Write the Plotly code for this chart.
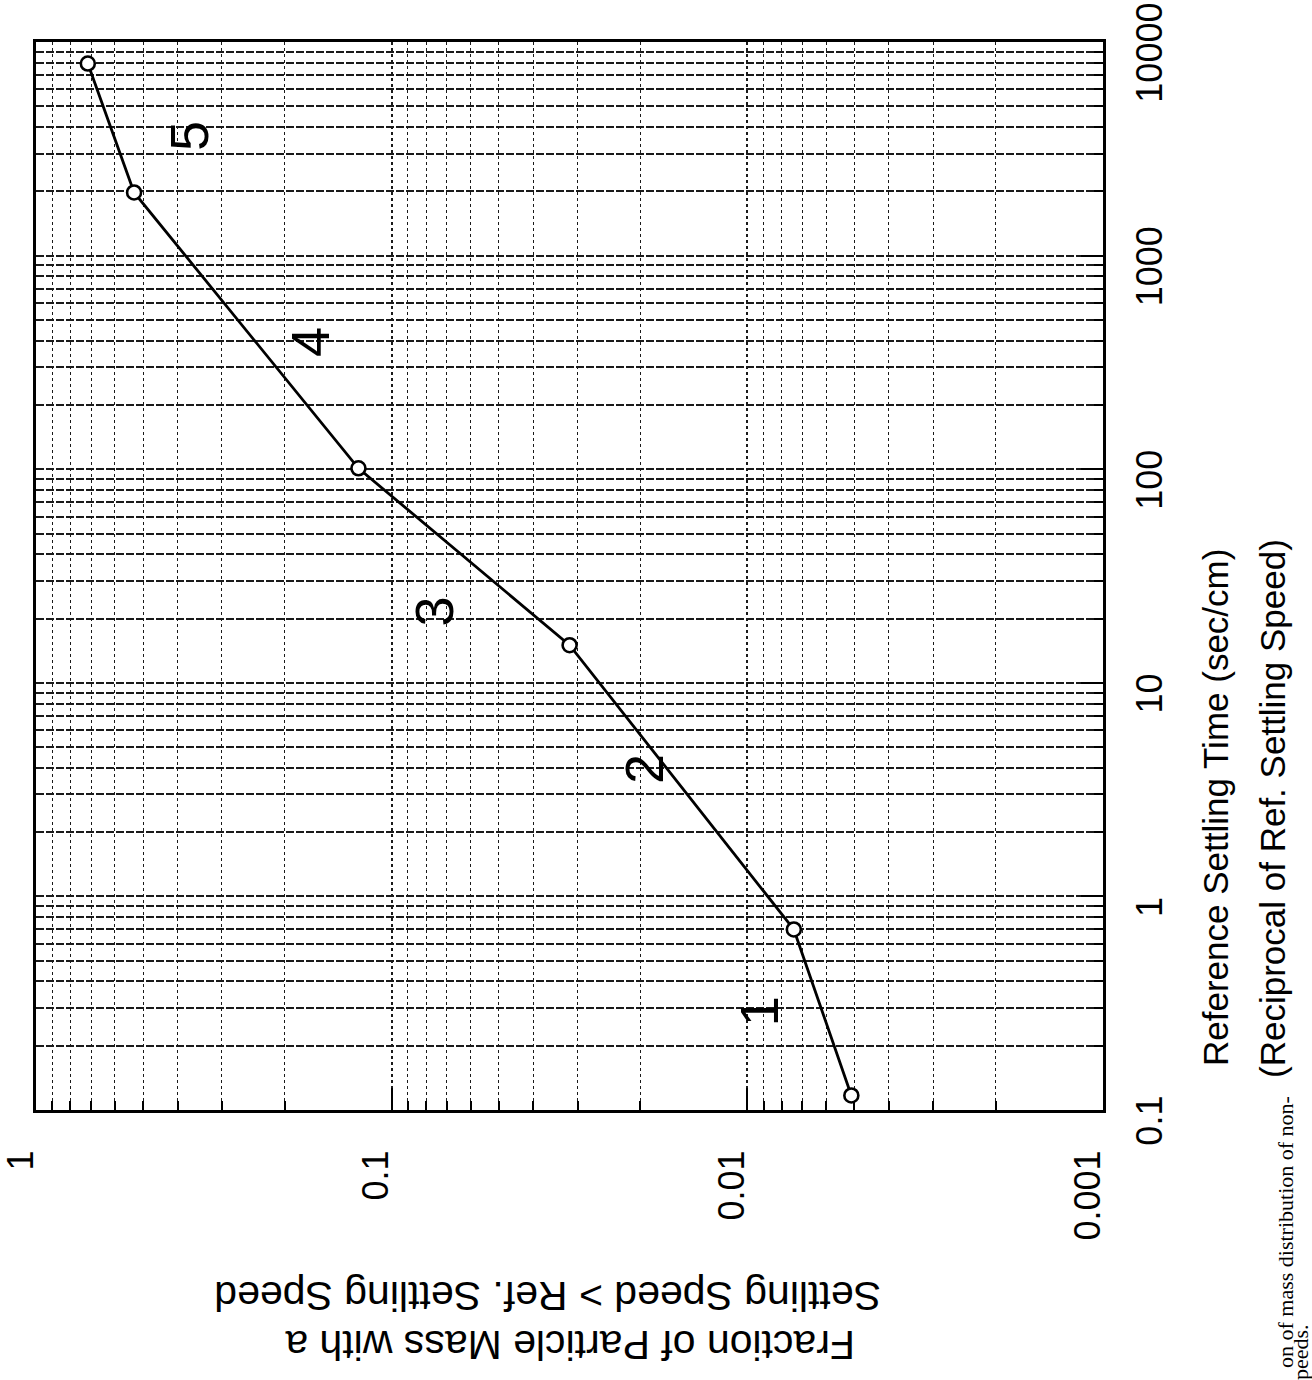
import numpy as np
import plotly.graph_objects as go

# ---------------- data ----------------
settling_time = [0.117, 0.70, 15.0, 101.0, 1975.0, 7930.0]      # sec/cm
mass_fraction = [0.0051, 0.0074, 0.0316, 0.124, 0.53, 0.715]     # fraction

segment_labels = ["1", "2", "3", "4", "5"]
label_fraction = [0.00925, 0.0195, 0.0759, 0.169, 0.371]
label_time = [0.291, 3.96, 21.6, 392.0, 3640.0]

time_ticks = [0.1, 1, 10, 100, 1000, 10000]
time_ticktext = ["0.1", "1", "10", "100", "1000", "10000"]
frac_ticks = [1, 0.1, 0.01, 0.001]
frac_ticktext = ["1", "0.1", "0.01", "0.001"]
minor_digits = [2, 3, 4, 5, 6, 7, 8, 9]
frac_decades = [-3, -2, -1]
time_decades = [-1, 0, 1, 2, 3]

x_title_lines = ["Fraction of Particle Mass with a",
                 "Settling Speed > Ref. Settling Speed"]
y_title_lines = ["Reference Settling Time (sec/cm)",
                 "(Reciprocal of Ref. Settling Speed)"]
caption_lines = ["on of mass distribution of non-", "peeds."]

# ---------------- layout geometry ----------------
W, H = 1312, 1380
L, R, T, B = 36, 1103, 42, 1110
SANS = "Liberation Sans, Arial, Helvetica, sans-serif"
SERIF = "Liberation Serif, Times New Roman, serif"


def paper(px, py):
    return (px - L) / (R - L), (B - py) / (B - T)


frac_minor = [m * 10.0 ** k for k in frac_decades for m in minor_digits]
time_minor = [m * 10.0 ** k for k in time_decades for m in minor_digits]

fig = go.Figure()
fig.add_trace(go.Scatter(
    x=mass_fraction, y=settling_time, mode="lines+markers",
    line=dict(color="black", width=2.8),
    marker=dict(symbol="circle", size=14, color="white",
                line=dict(color="black", width=2.6)),
    showlegend=False, cliponaxis=False,
))

annotations = []
for lab, fx, ty in zip(segment_labels, label_fraction, label_time):
    annotations.append(dict(
        x=float(np.log10(fx)), y=float(np.log10(ty)), xref="x", yref="y",
        text=lab, showarrow=False, textangle=-90,
        font=dict(family=SANS, size=54, color="black")))

# right-hand axis title (rotated, two lines)
for (px, py), txt in zip([(1215, 808), (1272, 809)], y_title_lines):
    x, y = paper(px, py)
    annotations.append(dict(x=x, y=y, xref="paper", yref="paper", text=txt,
                            showarrow=False, textangle=-90,
                            xanchor="center", yanchor="middle",
                            font=dict(family=SANS, size=35, color="black")))

# bottom axis title (upside down, two lines)
for (px, py), txt in zip([(570, 1345), (548, 1296)], x_title_lines):
    x, y = paper(px, py)
    annotations.append(dict(x=x, y=y, xref="paper", yref="paper", text=txt,
                            showarrow=False, textangle=180,
                            xanchor="center", yanchor="middle",
                            font=dict(family=SANS, size=41, color="black")))

# cut-off caption fragments
for (px, py), txt in zip([(1285, 1232), (1300, 1352)], caption_lines):
    x, y = paper(px, py)
    annotations.append(dict(x=x, y=y, xref="paper", yref="paper", text=txt,
                            showarrow=False, textangle=-90,
                            xanchor="center", yanchor="middle",
                            font=dict(family=SERIF, size=22, color="black")))

common = dict(
    type="log", showline=True, mirror=True, linewidth=3, linecolor="black",
    ticks="inside", ticklen=22, tickwidth=2, tickcolor="black",
    tickangle=-90, tickfont=dict(family=SANS, size=36, color="black"),
    showgrid=True, gridcolor="#1a1a1a", zeroline=False,
    ticklabeloverflow="allow", automargin=False,
)

fig.update_layout(
    width=W, height=H, autosize=False,
    margin=dict(l=L, r=W - R, t=T, b=H - B, pad=0, autoexpand=False),
    paper_bgcolor="white", plot_bgcolor="white",
    showlegend=False,
    annotations=annotations,
    xaxis=dict(**common, range=[0, -3], tickmode="array",
               tickvals=frac_ticks, ticktext=frac_ticktext,
               ticklabelstandoff=23, ticklabelshift=15,
               gridwidth=1.5, griddash="dot",
               minor=dict(tickmode="array", tickvals=frac_minor,
                          ticks="inside", ticklen=9, tickwidth=2,
                          tickcolor="black", showgrid=True,
                          gridcolor="#1a1a1a", gridwidth=1.4,
                          griddash="dot")),
    yaxis=dict(**common, side="right", range=[-1, 4], tickmode="array",
               tickvals=time_ticks, ticktext=time_ticktext,
               ticklabelstandoff=13, ticklabelshift=16,
               gridwidth=1.8, griddash="8px,2px",
               minor=dict(tickmode="array", tickvals=time_minor,
                          ticks="inside", ticklen=9, tickwidth=2,
                          tickcolor="black", showgrid=True,
                          gridcolor="#1a1a1a", gridwidth=1.6,
                          griddash="8px,2px")),
)

fig.write_html("out.html")
